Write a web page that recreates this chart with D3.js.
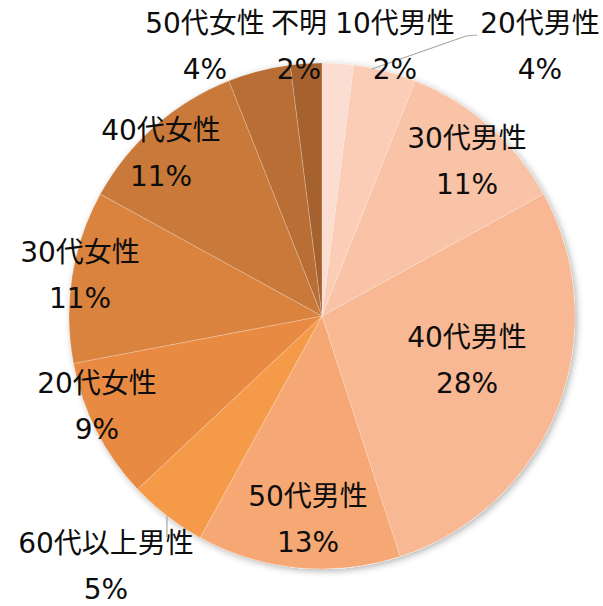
<!DOCTYPE html>
<meta charset="utf-8">
<script src="https://d3js.org/d3.v7.min.js"></script>
<style>
  body { margin: 0; background: #fff; }
  text { font-family: "DejaVu Sans", "Noto Sans CJK JP", sans-serif; font-size: 28px; fill: #0d0d0d; }
</style>
<div id="chart"></div>
<script>

// data
const labels = ["10代男性", "20代男性", "30代男性", "40代男性", "50代男性", "60代以上男性",
                "20代女性", "30代女性", "40代女性", "50代女性", "不明"];
const values = [2, 4, 11, 28, 13, 5, 9, 11, 11, 4, 2];
const colors = ["#fcddd2", "#fbcdb7", "#f9c3a7", "#f8b894", "#f6a874", "#f59a48",
                "#e88a42", "#da833f", "#c9793a", "#b86e34", "#a6622e"];

// where each label sits (centre x, baseline of first line)
const labelXY = [[395, 33], [540, 33], [467, 148], [467, 347], [308, 506], [106, 553],
                 [97, 393], [80, 262], [161, 140], [205, 33], [299, 33]];

const width = 603, height = 606;
const cx = 322, cy = 316, radius = 253;
const lineGap = 46;

const svg = d3.select("#chart")
  .append("svg")
    .attr("width", width)
    .attr("height", height);

// soft shadow round the pie
const filter = svg.append("defs").append("filter")
  .attr("id", "shadow")
  .attr("x", "-20%").attr("y", "-20%")
  .attr("width", "140%").attr("height", "140%");
filter.append("feDropShadow")
  .attr("dx", 2).attr("dy", 2)
  .attr("stdDeviation", 3.5)
  .attr("flood-color", "#000")
  .attr("flood-opacity", 0.3);

const pie = d3.pie().sort(null).value(d => d);
const arcs = pie(values);
const arc = d3.arc().innerRadius(0).outerRadius(radius);

const g = svg.append("g")
  .attr("transform", `translate(${cx},${cy})`);

g.append("circle")
  .attr("r", radius)
  .attr("fill", "#fff")
  .attr("filter", "url(#shadow)");

g.selectAll("path")
  .data(arcs)
  .join("path")
    .attr("d", arc)
    .attr("fill", (d, i) => colors[i])
    .attr("stroke", "rgba(255,255,255,0.3)")
    .attr("stroke-width", 0.7);

// leader lines (20代男性 and 60代以上男性)
const edge = (d, r) => {
  const a = (d.startAngle + d.endAngle) / 2;
  return [cx + r * Math.sin(a), cy - r * Math.cos(a)];
};

const p20 = edge(arcs[1], radius);
const p20b = [p20[0] - 13, p20[1] - 2];
svg.append("polyline")
  .attr("points", [[477, 35], [466, 36], p20b].map(p => p.join(",")).join(" "))
  .attr("fill", "none")
  .attr("stroke", "#a6a6a6")
  .attr("stroke-width", 1.2);

const p60 = edge(arcs[5], radius);
svg.append("line")
  .attr("x1", p60[0]).attr("y1", p60[1])
  .attr("x2", p60[0]).attr("y2", 537)
  .attr("stroke", "#a6a6a6")
  .attr("stroke-width", 1.2);

// labels
const lab = svg.append("g").attr("text-anchor", "middle");
labels.forEach((name, i) => {
  const [x, y] = labelXY[i];
  lab.append("text").attr("x", x).attr("y", y).text(name);
  lab.append("text").attr("x", x).attr("y", y + lineGap).text(values[i] + "%");
});

</script>
